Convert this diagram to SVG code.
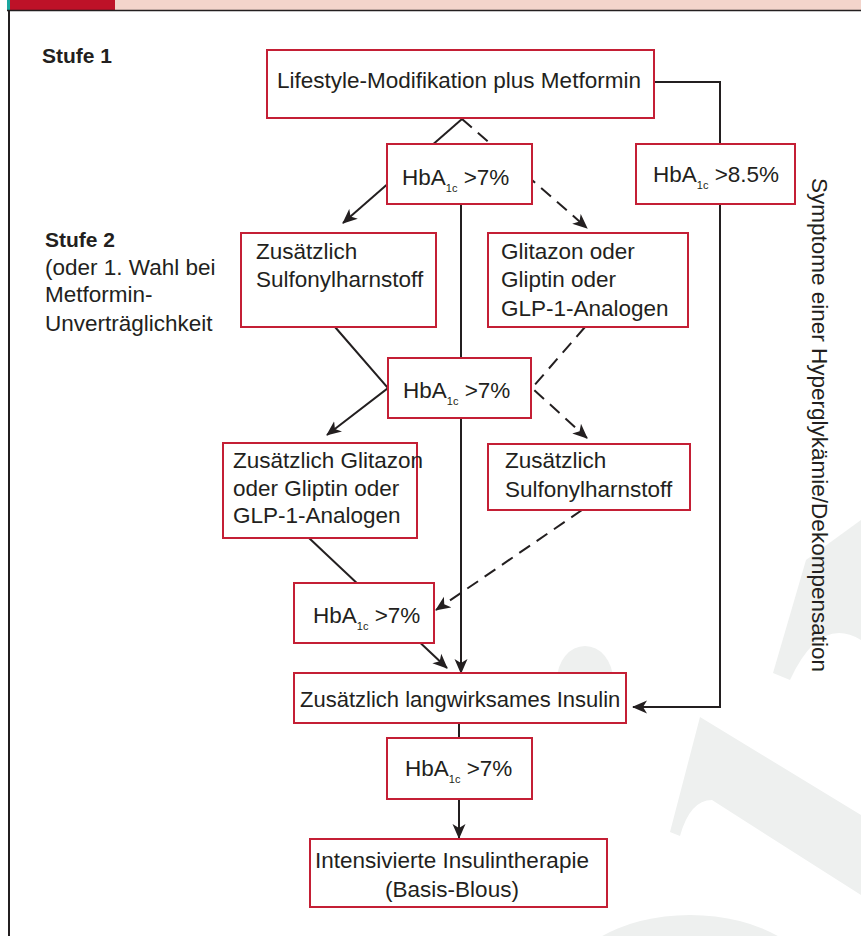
<svg xmlns="http://www.w3.org/2000/svg" width="861" height="936" viewBox="0 0 861 936">
<style>
.box{fill:#fff;stroke:#C41F35;stroke-width:2}
.t{font-family:"Liberation Sans",Arial,sans-serif;font-size:22.5px;fill:#231F20}
.b{font-weight:bold;font-size:21px}
.sub{font-size:11px}
.c{fill:none;stroke:#231F20;stroke-width:2}
.d{stroke-dasharray:13 8}
.wm{fill:#EEF0EF}
</style>
<defs>
<marker id="ah" markerUnits="userSpaceOnUse" markerWidth="16" markerHeight="14" viewBox="0 -7 16 14" refX="14" refY="0" orient="auto">
<path d="M0,-6.5 L15,0 L0,6.5 L4,0 Z" fill="#231F20"/>
</marker>
</defs>
<rect width="861" height="936" fill="#fff"/>
<g id="watermark">
<path class="wm" d="M700,717 L861,815 L861,895 L712,800 Q690,800 680,836 L670,832 Z"/>
<path class="wm" d="M773,673 L806,560 L861,520 L861,640 Q820,615 790,680 Z"/>
<ellipse class="wm" cx="690" cy="995" rx="130" ry="80"/>
<ellipse class="wm" cx="585" cy="680" rx="28" ry="34"/>
</g>
<g id="header">
<rect x="10" y="0" width="851" height="10" fill="#F3D4CB"/>
<rect x="10" y="0" width="105" height="10" fill="#BE1228"/>
<rect x="7" y="0" width="3" height="10" fill="#1AA7A0"/>
<line x1="7" y1="10.5" x2="861" y2="10.5" stroke="#231F20" stroke-width="1.5"/>
<line x1="9" y1="10" x2="9" y2="936" stroke="#231F20" stroke-width="2"/>
</g>
<g id="labels">
<text class="t b" x="42" y="63">Stufe 1</text>
<text class="t b" x="45" y="247">Stufe 2</text>
<text class="t" x="45" y="275">(oder 1. Wahl bei</text>
<text class="t" x="45" y="302">Metformin-</text>
<text class="t" x="45" y="331">Unverträglichkeit</text>
<text class="t" transform="translate(812,178) rotate(90)">Symptome einer Hyperglykämie/Dekompensation</text>
</g>
<g id="connectors">
<path class="c" d="M654,82 H720 V707 H633" marker-end="url(#ah)"/>
<path class="c" d="M462,119 L343,223" marker-end="url(#ah)"/>
<path class="c d" d="M462,119 L587,228" marker-end="url(#ah)"/>
<path class="c" d="M461,204 V673" marker-end="url(#ah)"/>
<path class="c" d="M335,327 L388,388 L327,435" marker-end="url(#ah)"/>
<path class="c d" d="M585,327 L532,388 L587,438" marker-end="url(#ah)"/>
<path class="c" d="M309,538 L447,668" marker-end="url(#ah)"/>
<path class="c d" d="M582,510 L436,610" marker-end="url(#ah)"/>
<path class="c" d="M459,723 V738"/>
<path class="c" d="M459,799 V838" marker-end="url(#ah)"/>
</g>
<g id="n-lifestyle">
<rect class="box" x="267" y="50" width="387" height="68"/>
<text class="t" x="277" y="88">Lifestyle-Modifikation plus Metformin</text>
</g>
<g id="n-hba1">
<rect class="box" x="387" y="144" width="145" height="60"/>
<text class="t" x="402" y="185">HbA<tspan class="sub" dy="7">1c</tspan><tspan dy="-7"> &gt;7%</tspan></text>
</g>
<g id="n-hba85">
<rect class="box" x="636" y="144" width="159" height="60"/>
<text class="t" x="653" y="182">HbA<tspan class="sub" dy="7">1c</tspan><tspan dy="-7"> &gt;8.5%</tspan></text>
</g>
<g id="n-sulf1">
<rect class="box" x="241" y="233" width="195" height="94"/>
<text class="t" x="256" y="259">Zusätzlich</text>
<text class="t" x="256" y="287">Sulfonylharnstoff</text>
</g>
<g id="n-glit1">
<rect class="box" x="488" y="233" width="200" height="94"/>
<text class="t" x="501" y="259">Glitazon oder</text>
<text class="t" x="501" y="287">Gliptin oder</text>
<text class="t" x="501" y="316">GLP-1-Analogen</text>
</g>
<g id="n-hba2">
<rect class="box" x="388" y="358" width="143" height="60"/>
<text class="t" x="403" y="398">HbA<tspan class="sub" dy="7">1c</tspan><tspan dy="-7"> &gt;7%</tspan></text>
</g>
<g id="n-glit2">
<rect class="box" x="223" y="443" width="194" height="95"/>
<text class="t" x="233" y="468">Zusätzlich Glitazon</text>
<text class="t" x="233" y="496">oder Gliptin oder</text>
<text class="t" x="233" y="523">GLP-1-Analogen</text>
</g>
<g id="n-sulf2">
<rect class="box" x="488" y="444" width="202" height="66"/>
<text class="t" x="505" y="468">Zusätzlich</text>
<text class="t" x="505" y="497">Sulfonylharnstoff</text>
</g>
<g id="n-hba3">
<rect class="box" x="294" y="583" width="140" height="60"/>
<text class="t" x="313" y="623">HbA<tspan class="sub" dy="7">1c</tspan><tspan dy="-7"> &gt;7%</tspan></text>
</g>
<g id="n-insulin">
<rect class="box" x="294" y="673" width="332" height="50"/>
<text class="t" x="300" y="707" style="font-size:22px">Zusätzlich langwirksames Insulin</text>
</g>
<g id="n-hba4">
<rect class="box" x="387" y="738" width="145" height="61"/>
<text class="t" x="405" y="776">HbA<tspan class="sub" dy="7">1c</tspan><tspan dy="-7"> &gt;7%</tspan></text>
</g>
<g id="n-final">
<rect class="box" x="310" y="839" width="297" height="68"/>
<text class="t" x="315" y="868">Intensivierte Insulintherapie</text>
<text class="t" x="452" y="897" text-anchor="middle">(Basis-Blous)</text>
</g>
</svg>
